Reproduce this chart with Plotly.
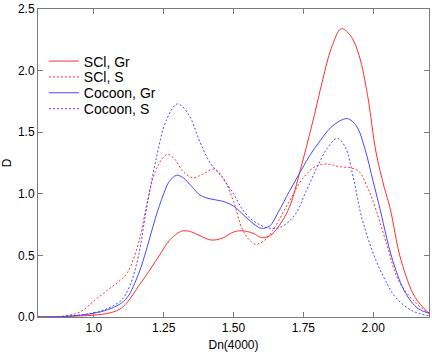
import plotly.graph_objects as go

# --- data ---
scl_gr_x = [0.80, 0.90, 1.00, 1.05, 1.09, 1.12, 1.16, 1.20, 1.24, 1.27, 1.30, 1.32, 1.35, 1.38, 1.42, 1.46,
            1.50, 1.53, 1.57, 1.60, 1.63, 1.66, 1.70, 1.74, 1.78, 1.82, 1.85, 1.886, 1.92, 1.95, 1.98,
            2.01, 2.04, 2.06, 2.10, 2.15, 2.20]
scl_gr_y = [0.0, 0.005, 0.015, 0.03, 0.06, 0.12, 0.25, 0.38, 0.52, 0.62, 0.68, 0.70, 0.69, 0.66, 0.625, 0.64,
            0.69, 0.70, 0.68, 0.645, 0.66, 0.73, 0.89, 1.20, 1.55, 1.93, 2.18, 2.34, 2.28, 2.12, 1.80,
            1.34, 1.05, 0.89, 0.46, 0.16, 0.03]

scl_s_x = [0.80, 0.90, 0.95, 1.00, 1.05, 1.09, 1.12, 1.16, 1.19, 1.22, 1.25, 1.265, 1.29, 1.32, 1.355, 1.39,
           1.43, 1.46, 1.50, 1.53, 1.555, 1.58, 1.61, 1.64, 1.70, 1.75, 1.80, 1.84, 1.88, 1.92, 1.95,
           1.98, 2.00, 2.05, 2.09, 2.15, 2.20]
scl_s_y = [0.0, 0.01, 0.04, 0.13, 0.22, 0.29, 0.36, 0.60, 0.92, 1.18, 1.30, 1.32, 1.28, 1.18, 1.13, 1.16,
           1.20, 1.14, 0.94, 0.72, 0.63, 0.59, 0.62, 0.70, 0.94, 1.13, 1.23, 1.24, 1.22, 1.21, 1.18,
           1.05, 0.94, 0.58, 0.30, 0.12, 0.03]

coc_gr_x = [0.80, 0.90, 1.00, 1.05, 1.09, 1.12, 1.16, 1.19, 1.22, 1.25, 1.27, 1.296, 1.32, 1.35, 1.38, 1.414,
            1.46, 1.50, 1.54, 1.57, 1.60, 1.63, 1.66, 1.70, 1.74, 1.77, 1.81, 1.854, 1.907, 1.94, 1.97,
            2.00, 2.02, 2.07, 2.117, 2.16, 2.20]
coc_gr_y = [0.0, 0.005, 0.03, 0.06, 0.10, 0.16, 0.35, 0.56, 0.80, 1.00, 1.10, 1.15, 1.13, 1.06, 0.99, 0.96,
            0.94, 0.90, 0.82, 0.76, 0.72, 0.74, 0.85, 1.02, 1.18, 1.30, 1.43, 1.55, 1.61, 1.55, 1.37,
            1.10, 0.92, 0.46, 0.19, 0.07, 0.03]

coc_s_x = [0.80, 0.90, 0.99, 1.05, 1.10, 1.13, 1.16, 1.19, 1.22, 1.26, 1.30, 1.34, 1.38, 1.414, 1.46, 1.50,
           1.53, 1.56, 1.593, 1.63, 1.67, 1.72, 1.76, 1.80, 1.836, 1.871, 1.90, 1.93, 1.96, 2.01, 2.05,
           2.08, 2.14, 2.20]
coc_s_y = [0.0, 0.005, 0.03, 0.07, 0.14, 0.26, 0.50, 0.90, 1.25, 1.60, 1.73, 1.64, 1.42, 1.26, 1.13, 1.00,
           0.88, 0.80, 0.75, 0.72, 0.73, 0.83, 1.02, 1.22, 1.37, 1.45, 1.38, 1.12, 0.80, 0.46, 0.27,
           0.16, 0.05, 0.01]

x_tickvals = [1.0, 1.25, 1.5, 1.75, 2.0]
x_ticktext = ["1.0", "1.25", "1.50", "1.75", "2.00"]
y_tickvals = [0.0, 0.5, 1.0, 1.5, 2.0, 2.5]
y_ticktext = ["0.0", "0.5", "1.0", "1.5", "2.0", "2.5"]

RED = "#ff3030"
BLUE = "#4848ff"
DOT = "2px,2px"

series = [
    ("SCl, Gr", scl_gr_x, scl_gr_y, RED, "solid", "legend"),
    ("SCl, S", scl_s_x, scl_s_y, RED, DOT, "legend2"),
    ("Cocoon, Gr", coc_gr_x, coc_gr_y, BLUE, "solid", "legend3"),
    ("Cocoon, S", coc_s_x, coc_s_y, BLUE, DOT, "legend4"),
]

fig = go.Figure()
for name, xs, ys, col, dash, leg in series:
    fig.add_trace(go.Scatter(x=xs, y=ys, mode="lines", name=name, legend=leg,
                             line=dict(color=col, width=1, dash=dash, shape="spline", smoothing=1.0)))

axis_common = dict(showgrid=False, zeroline=False, showline=True, mirror="ticks",
                   linecolor="#7a7a7a", linewidth=1, ticks="inside", ticklen=5,
                   tickcolor="#7a7a7a", ticklabeloverflow="allow",
                   tickfont=dict(family="Liberation Sans, Arial", size=12, color="#000"))

# plot area: top 6px, height 311px; legend rows centred at 59, 75, 91, 107 px
plot_top, plot_h = 6, 311
def leg_y(py):
    return 1 - (py - plot_top) / plot_h

legend_common = dict(x=0.015, xanchor="left", yanchor="middle", bgcolor="rgba(0,0,0,0)",
                     font=dict(size=14, family="Liberation Sans, Arial", color="#000"), itemwidth=30)

fig.update_layout(
    width=432, height=354,
    margin=dict(l=38, r=2, t=6, b=37),
    plot_bgcolor="white", paper_bgcolor="white",
    font=dict(family="Liberation Sans, Arial", size=12, color="#000"),
    xaxis=dict(range=[0.8, 2.2], tickvals=x_tickvals, ticktext=x_ticktext,
               title=dict(text="Dn(4000)", font=dict(size=12), standoff=6), **axis_common),
    yaxis=dict(range=[0, 2.5], tickvals=y_tickvals, ticktext=y_ticktext,
               title=dict(text="D", font=dict(size=12), standoff=8), **axis_common),
    legend=dict(y=leg_y(59), **legend_common),
    legend2=dict(y=leg_y(75), **legend_common),
    legend3=dict(y=leg_y(91), **legend_common),
    legend4=dict(y=leg_y(107), **legend_common),
    showlegend=True,
)

fig.write_html("out.html", config={"displayModeBar": False},
               post_script="document.body.style.margin='0';document.body.style.padding='0';")
